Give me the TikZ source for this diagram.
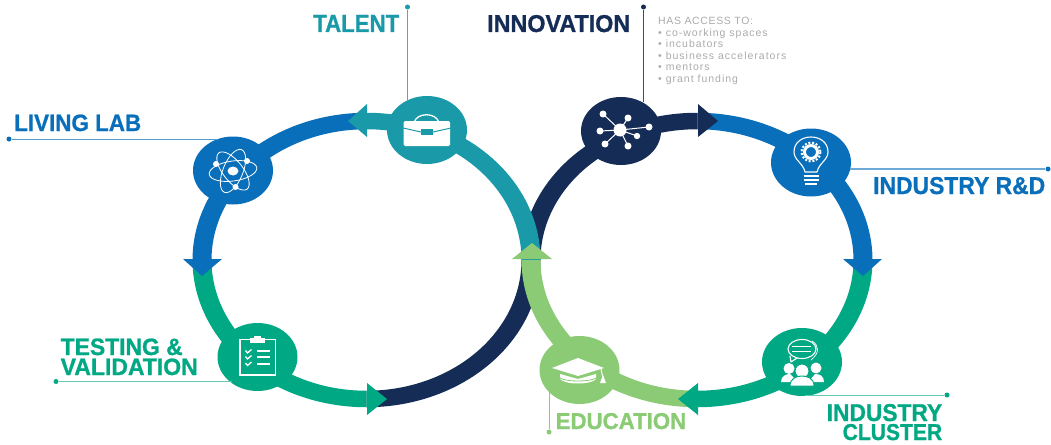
\documentclass[tikz,border=0pt]{standalone}
\usepackage{graphicx}
\usepackage{fontspec}
\newfontfamily\labfont[FakeBold=1]{Liberation Sans Bold}
\newfontfamily\notefont[LetterSpace=6]{Liberation Sans}
\newfontfamily\listfont[LetterSpace=9.5]{Liberation Sans}
\usetikzlibrary{shapes.geometric}
\definecolor{cblue}{HTML}{0A6FBA}
\definecolor{cteal}{HTML}{1A9AA8}
\definecolor{cnavy}{HTML}{152C56}
\definecolor{cgreen}{HTML}{00A884}
\definecolor{clight}{HTML}{8CCB75}
\definecolor{cnote}{HTML}{ABABAB}
\newcommand\lab[3]{\resizebox{#1pt}{#2pt}{\labfont #3}}
% band between two ellipses: the original is stretched, so the ring is thicker on its sides
\newcommand\band[6]{\fill[#6] plot[domain=#4:#5,samples=70] ({#1+(#2+9.5)*cos(\x)},{260+147.25*sin(\x)}) -- plot[domain=#5:#4,samples=70] ({#1+(#2-9.5)*cos(\x)},{260+130.75*sin(\x)}) -- cycle;}
\newcommand\ringL[3]{\band{366.5}{164.5}{}{#1}{#2}{#3}}
\newcommand\ringR[3]{\band{697}{166}{}{#1}{#2}{#3}}
\tikzset{
  hub/.style={ellipse,minimum width=80pt,minimum height=68pt,inner sep=0pt},
  pin/.style={circle,inner sep=0pt,minimum size=5pt},
  leader/.style={line width=1pt},
  label/.style={inner sep=0pt,anchor=base west},
  icon/.style={draw=white,line width=1.1pt,line cap=round,line join=round}
}
\begin{document}
\begin{tikzpicture}[x=1pt,y=-1pt]
\useasboundingbox (0,0) rectangle (1051,444);
% rings
\ringL{90}{0}{cnavy}
\ringR{180}{270}{cnavy}
\ringL{0}{-90}{cteal}
\ringL{-90}{-180}{cblue}
\ringL{180}{90}{cgreen}
\ringR{270}{360}{cblue}
\ringR{0}{90}{cgreen}
\ringR{90}{180}{clight}
% arrowheads
\fill[cteal] (367,104) -- (348,121) -- (367,137) -- cycle;
\fill[cblue] (183,259) -- (202,276) -- (222,259) -- cycle;
\fill[cgreen] (367,383) -- (387,399) -- (367,415) -- cycle;
\fill[cnavy] (698,104) -- (718,121) -- (698,137) -- cycle;
\fill[cblue] (843,259) -- (863,276) -- (882,259) -- cycle;
\fill[cgreen] (698,383) -- (678,399) -- (698,415) -- cycle;
\fill[clight] (512,259) -- (532,243) -- (552,259) -- cycle;
% hubs
\node[hub,fill=cteal] (talent) at (427,130) {};
\node[hub,fill=cblue] (living) at (233,170.5) {};
\node[hub,fill=cnavy] (innov) at (621,131) {};
\node[hub,fill=cblue] (rnd) at (811,162.5) {};
\node[hub,fill=cgreen] (cluster) at (802,362) {};
\node[hub,fill=clight] (edu) at (579.5,370) {};
\node[hub,fill=cgreen] (testing) at (257.5,357) {};
% pins
\node[pin,fill=cteal] (ptalent) at (407.5,7) {};
\node[pin,fill=cblue] (pliving) at (9,139) {};
\node[pin,fill=cnavy] (pinnov) at (643.5,7) {};
\node[pin,fill=cblue] (prnd) at (1048,169) {};
\node[pin,fill=cgreen] (ptesting) at (56,381.5) {};
\node[pin,fill=clight] (pedu) at (549,432) {};
\node[pin,fill=cgreen] (pcluster) at (947,395) {};
\draw[leader,cteal!80] (ptalent) -- (ptalent |- 0,100);
\draw[leader,cblue!70] (pliving) -- (pliving -| 218,0);
\draw[leader,cnavy!85] (pinnov) -- (pinnov |- 0,102);
\draw[leader,cblue!60,line width=1.3pt] (prnd) -- (prnd -| 850,0);
\draw[leader,cgreen!60] (ptesting) -- (ptesting -| 232,0);
\draw[leader,clight] (pedu) -- (pedu |- 0,392);
\draw[leader,cgreen!60] (pcluster) -- (pcluster -| 805,0);
% labels
\node[label,text=cteal] (ltalent) at (313,32) {\lab{86}{17}{TALENT}};
\node[label,text=cblue] (lliving) at (14,131) {\lab{127}{16.5}{LIVING LAB}};
\node[label,text=cnavy] (linnov) at (487,32) {\lab{143}{17}{INNOVATION}};
\node[label,text=cblue] (lrnd) at (873,194) {\lab{172}{17}{INDUSTRY R\&D}};
\node[label,text=cgreen] (ltest1) at (60.5,355) {\lab{122}{16.5}{TESTING \&}};
\node[label,text=cgreen] (ltest2) at (60.5,375) {\lab{137}{16.5}{VALIDATION}};
\node[label,text=clight] (ledu) at (555.5,429) {\lab{130.5}{16}{EDUCATION}};
\node[label,text=cgreen] (lclus1) at (826.5,421) {\lab{115.5}{17}{INDUSTRY}};
\node[label,text=cgreen] (lclus2) at (842.5,440) {\lab{99.5}{16}{CLUSTER}};
% note
\node[inner sep=0pt,anchor=north west,align=left,text=cnote,font=\notefont\fontsize{10.5}{11.5}\selectfont] (note) at (658,17) {HAS ACCESS TO:\\\listfont • co-working spaces\\\listfont • incubators\\\listfont • business accelerators\\\listfont • mentors\\\listfont • grant funding};
% briefcase icon
\draw[white,line width=1.3pt] (414,123) .. controls (416,112) and (437,112) .. (439,123);
\fill[white,rounded corners=1.5pt] (403.5,121) rectangle (450,146);
\draw[cteal,line width=1pt] (403,128) -- (421,132) (433,132) -- (451,128);
\fill[cteal] (421,129) rectangle (433,135);
% atom icon
\begin{scope}[shift={(233,171)}]
\draw[icon,line width=.8pt,rotate=8] (0,0) ellipse [x radius=24,y radius=10];
\draw[icon,line width=.8pt,rotate=68] (0,0) ellipse [x radius=23,y radius=10];
\draw[icon,line width=.8pt,rotate=-52] (0,0) ellipse [x radius=23,y radius=10];
\fill[white] (0,0) ellipse [x radius=5.5,y radius=4.5];
\fill[white] (-17,-7) circle (3) (14,-10) circle (3) (2.5,16) circle (3);
\end{scope}
% network icon
\draw[white,line width=1pt] (620,130) -- (603,114) (620,130) -- (628,118) (620,130) -- (649,127) (620,130) -- (637,136) (620,130) -- (628,146) (620,130) -- (605,144) (620,130) -- (600,131);
\fill[white] (620,130) circle (6.5);
\fill[white] (603,114) circle (3.5) (628,118) circle (3.5) (649,127) circle (3.5) (637,136) circle (3.2) (628,146) circle (3.5) (605,144) circle (3.5) (600,131) circle (3.5);
% bulb icon
\draw[icon] (805,172) .. controls (803,163) and (794,160) .. (794,152) .. controls (794,132) and (828,132) .. (828,152) .. controls (828,160) and (819,163) .. (817,172) -- cycle;
\draw[white,line width=3pt] (811,152) circle (6.5);
\draw[white,line width=2pt,dash pattern=on 2pt off 1.8pt] (811,152) circle (9.5);
\draw[white,line width=1.6pt] (803.5,176) -- (818.5,176) (803.5,180) -- (818.5,180) (805,184) -- (817,184);
% cluster icon
\draw[icon] (802,349) ellipse [x radius=14,y radius=9.5];
\draw[icon] (790,356) -- (791,362) -- (797,358);
\draw[icon,line width=.7pt] (812,341) .. controls (819,345) and (820,353) .. (811,360);
\draw[white,line width=1pt] (792,346.5) -- (811,346.5) (792,351) -- (811,351);
\fill[white] (789,368.5) circle (5.5) (816,368) circle (5.5);
\fill[white] (781,382) .. controls (781,376) and (786,374) .. (790,374) -- (796,380) -- (794,382) -- cycle;
\fill[white] (824,382) .. controls (824,376) and (820,374) .. (815,374) -- (810,380) -- (812,382) -- cycle;
\draw[cgreen,fill=white,line width=1pt] (802,371) circle (7);
\draw[cgreen,fill=white,line width=1pt] (790,386) .. controls (790,378) and (797,376) .. (802,376) .. controls (807,376) and (814,378) .. (814,386) -- cycle;
% cap icon
\fill[white] (552,368) -- (578,358) -- (604,368) -- (578,376) -- cycle;
\fill[white] (560,374) -- (560,379) .. controls (565,385) and (591,385) .. (596,379) -- (596,374) -- (578,379) -- cycle;
\draw[clight,line width=.8pt] (560,378) .. controls (566,382) and (590,382) .. (596,378);
\draw[white,line width=1pt] (601,369) -- (603,378);
\fill[white] (600,383) -- (603,375) -- (606,383) -- cycle;
% clipboard icon
\draw[white,line width=1.6pt] (240,339.5) rectangle (275.5,375);
\fill[white] (250,337.5) rectangle (265,342.5);
\fill[white] (254,336) rectangle (261,338);
\draw[white,line width=1.4pt] (257,351) -- (269.5,351) (257,357) -- (269.5,357) (257,364) -- (269.5,364);
\draw[white,line width=1.3pt] (245.5,350.5) -- (247.5,353) -- (251.5,349.5) (245.5,356.5) -- (247.5,359) -- (251.5,355.5) (245.5,363) -- (247.5,365.5) -- (251.5,362);
\end{tikzpicture}
\end{document}
